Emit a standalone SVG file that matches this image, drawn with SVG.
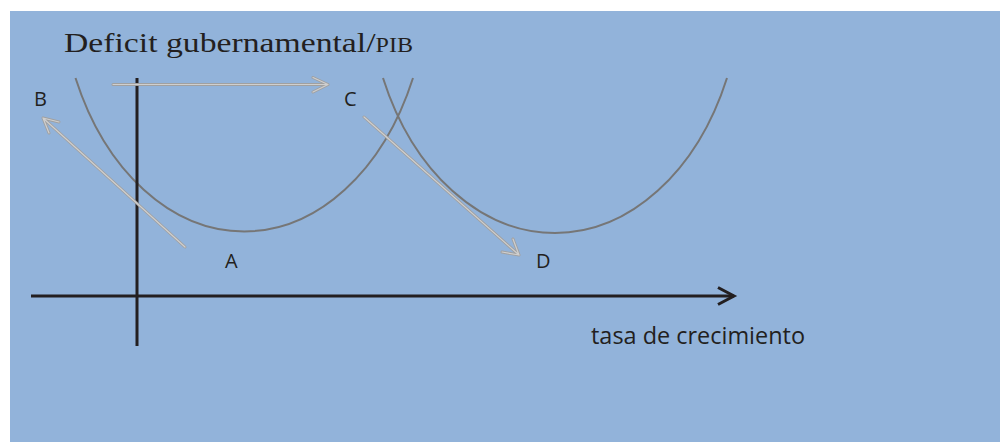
<svg xmlns="http://www.w3.org/2000/svg" width="1000" height="442" viewBox="0 0 1000 442">
  <style>
    .bg { fill: #92b3da; }
    .curve { fill: none; stroke: #767676; stroke-width: 2; }
    .axis { fill: none; stroke: #231f20; stroke-width: 3; stroke-linecap: butt; }
    .arrOut { fill: none; stroke: #a0a0a0; stroke-width: 3; stroke-linecap: round; stroke-linejoin: round; }
    .arrIn { fill: none; stroke: #cfcfcf; stroke-width: 1.2; stroke-linecap: round; stroke-linejoin: round; }
    .lbl { font-family: "Open Sans", "Liberation Sans", sans-serif; font-size: 20px; fill: #231f20; }
    .xl { font-family: "Open Sans", "Liberation Sans", sans-serif; font-size: 23px; fill: #231f20; }
    .title { font-family: "Liberation Serif", "DejaVu Serif", serif; font-size: 28px; fill: #231f20; }
    .sc { font-size: 20px; }
  </style>
  <rect class="bg" x="10" y="11" width="990" height="431"/>

  <g id="curves">
    <path id="curve-left" class="curve" d="M 75.5 78 A 185 260 0 0 0 413 78"/>
    <path id="curve-right" class="curve" d="M 383 78 A 188 260 0 0 0 727 78"/>
  </g>

  <g id="axes">
    <path class="axis" d="M 137 78 L 137 346"/>
    <path class="axis" d="M 31 296 L 734 296"/>
    <path class="axis" d="M 718 287.5 L 734 296 L 718 304.5" stroke-width="3.2"/>
  </g>

  <g id="connectors">
    <g id="arrow-top">
      <path class="arrOut" d="M 113 84.5 L 328 84.5 M 313 77.5 L 328 84.5 L 313 92"/>
      <path class="arrIn" d="M 113 84.5 L 328 84.5 M 313 77.5 L 328 84.5 L 313 92"/>
    </g>
    <g id="arrow-AB">
      <path class="arrOut" d="M 185 247 L 43 118 M 59 122 L 43 118 L 49 133"/>
      <path class="arrIn" d="M 185 247 L 43 118 M 59 122 L 43 118 L 49 133"/>
    </g>
    <g id="arrow-CD">
      <path class="arrOut" d="M 364 117 L 519 255 M 502 252 L 519 255 L 513 239"/>
      <path class="arrIn" d="M 364 117 L 519 255 M 502 252 L 519 255 L 513 239"/>
    </g>
  </g>

  <g id="title">
    <text class="title" x="64" y="52" textLength="349" lengthAdjust="spacingAndGlyphs">Deficit gubernamental/<tspan class="sc">PIB</tspan></text>
  </g>
  <g id="node-B"><text class="lbl" x="34" y="106">B</text></g>
  <g id="node-C"><text class="lbl" x="344" y="106">C</text></g>
  <g id="node-A"><text class="lbl" x="225" y="268">A</text></g>
  <g id="node-D"><text class="lbl" x="536" y="268">D</text></g>
  <g id="xlabel">
    <text class="xl" x="591" y="344" textLength="214" lengthAdjust="spacingAndGlyphs">tasa de crecimiento</text>
  </g>
</svg>
